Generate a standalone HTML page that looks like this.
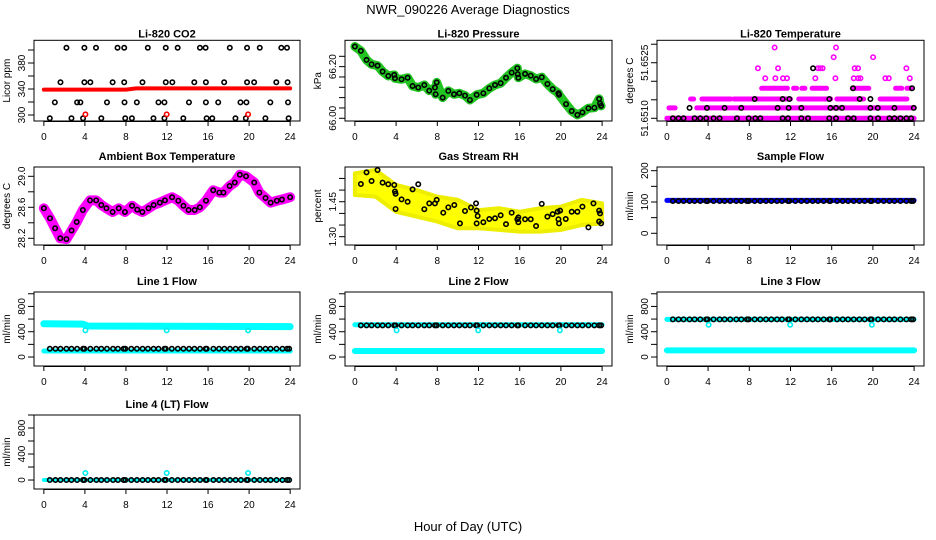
<!DOCTYPE html>
<html><head><meta charset="utf-8"><style>
html,body{margin:0;padding:0;background:#fff;}
svg{display:block;font-family:"Liberation Sans",sans-serif;}
</style></head><body>
<svg id="chart" width="936" height="540" viewBox="0 0 936 540" xmlns="http://www.w3.org/2000/svg">
<rect width="936" height="540" fill="#fff"/>
<text x="468" y="14" text-anchor="middle" font-size="13">NWR_090226  Average Diagnostics</text>
<text x="468" y="531" text-anchor="middle" font-size="13">Hour of Day (UTC)</text>
</svg>
<script>
// ---------- data ----------
const xTicks = [0,4,8,12,16,20,24];
const cadenceHours = [0.58,1.13,1.62,2.2,2.69,3.24,3.82,3.95,4.53,5.12,5.6,6.15,6.74,7.22,7.77,7.94,8.52,9.07,9.62,10.14,10.69,11.17,11.76,11.88,12.47,13.05,13.6,14.15,14.67,15.22,15.77,15.87,16.52,17.07,17.59,18.14,18.69,19.2,19.76,19.88,20.5,21.05,21.6,22.09,22.67,23.25,23.71,23.9];

// CO2
const co2HoursA = [2.2,3.95,5.08,7.18,7.83,10.13,11.88,13.04,15.21,15.76,18.12,19.8,21.04,23.14,23.69];
const co2HoursB = [1.62,3.95,4.53,6.7,7.83,9.61,11.88,12.52,14.66,15.79,17.57,19.8,20.49,22.65,23.75];
const co2HoursC = [1.07,3.24,3.56,6.15,7.86,9.06,11.17,11.75,14.14,15.79,16.99,19.16,19.74,22.07,23.79];
const co2HoursD = [0.58,2.69,3.82,5.6,7.93,8.58,10.68,11.75,13.59,15.86,16.41,18.67,19.68,21.59,23.85];
const co2Levels = [403.5,350.3,319.5,295];
const co2RedBand = [[0,339],[8,339],[9,341],[24,341]];
const co2RedOutlierHours = [4.05,11.97,19.9];
const co2RedOutlierValue = 301;

// Pressure
const presHours = [0,.58,1.13,1.62,2.2,2.69,3.24,3.82,3.89,4.53,5.12,5.6,6.15,6.74,7.22,7.77,7.84,7.94,8.52,9.07,9.62,10.14,10.69,11.17,11.82,12.47,13.05,13.6,14.15,14.67,15.22,15.77,15.81,15.87,16.52,17.07,17.59,18.14,18.69,19.2,19.76,19.82,20.5,21.05,21.6,22.09,22.67,23.25,23.71,23.8,23.9];
const presValues = [66.278,66.261,66.226,66.209,66.204,66.181,66.164,66.168,66.155,66.151,66.157,66.125,66.119,66.129,66.107,66.119,66.093,66.139,66.080,66.106,66.093,66.097,66.088,66.071,66.091,66.097,66.116,66.129,66.136,66.157,66.177,66.194,66.171,66.157,66.172,66.165,66.152,66.159,66.133,66.113,66.097,66.091,66.055,66.028,66.013,66.023,66.039,66.041,66.075,66.057,66.048];

// Li-820 temperature
const tempLevels = [51.6510,51.65128,51.65152,51.65181,51.65208,51.65235,51.65265,51.65291];
const tempBandL0 = [[0,24]];
const tempBandL1 = [[0.2,0.8],[2.9,24]];
const tempBandL2 = [[2.3,2.6],[3.4,6.2],[6.5,8.6],[8.7,12],[12.8,15.9],[16.5,19.1],[20.7,23.3]];
const tempBandL3 = [[9.2,11.7],[12.3,12.6],[13.1,13.4],[14.1,15.5],[18,19.6],[22.2,22.8],[23.3,23.7]];
const tempPtsL4 = [9.55,10.53,11.27,11.66,14.41,16.36,18.14,18.56,18.79,21.21,21.54,23.58];
const tempPtsL5 = [8.84,10.79,14.67,14.9,15.12,18.23,18.56,23.25];
const tempPtsL6 = [16.19,20.02];
const tempPtsL7 = [10.46,16.42];
const tempBlackL0 = [.58,1.13,1.62,2.69,3.24,3.82,4.53,5.12,6.8,7.94,8.58,9.07,11.24,11.76,13.05,13.7,15.77,16.42,17.59,18.14,19.76,20.5,21.6,22.09,22.67,23.25,23.71];
const tempBlackL1 = [2.2,3.89,5.6,7.22,10.75,11.82,13.05,15.87,16.42,17.0,19.76,20.47,22.09,23.97];
const tempBlackL2 = [8.52,11.24,11.89,15.77,18.72,19.76];
const tempBlackL3 = [18.07,23.8];
const tempBlackL5 = [14.19];

// Ambient box temperature
const ambHours = [0,0.6,1.1,1.6,2.2,2.7,3.2,3.8,4.5,5.1,5.6,6.1,6.7,7.3,7.9,8.6,9.1,9.6,10.2,10.7,11.3,11.8,12.5,13.1,13.6,14.1,14.7,15.2,15.8,16.5,17.1,17.5,18.1,18.6,19.1,19.7,20.5,21,21.6,22.1,22.7,23.2,24];
const ambValues = [28.587,28.458,28.329,28.2,28.19,28.30,28.41,28.565,28.69,28.69,28.63,28.587,28.54,28.587,28.54,28.62,28.57,28.54,28.587,28.63,28.66,28.69,28.73,28.685,28.62,28.565,28.565,28.6,28.685,28.82,28.79,28.79,28.875,28.92,29.02,29.0,28.92,28.79,28.72,28.66,28.685,28.70,28.73];

// Gas stream RH
const rhBandHours = [0,2,4,6,8,10,12,14,16,18,20,22,24];
const rhBandUpper = [1.572,1.586,1.522,1.500,1.472,1.458,1.414,1.422,1.407,1.422,1.429,1.458,1.443];
const rhBandLower = [1.479,1.472,1.407,1.386,1.365,1.336,1.336,1.329,1.322,1.322,1.329,1.350,1.357];
const rhHours = [0.58,1.13,1.62,2.2,2.69,3.24,3.82,3.89,3.95,3.95,4.53,5.12,5.6,6.15,6.74,7.22,7.77,7.94,8.58,9.07,9.65,10.2,10.69,11.27,11.76,11.82,11.92,11.82,12.47,13.05,13.6,14.15,14.67,15.22,15.77,15.87,15.87,16.52,17.07,17.59,18.14,18.69,19.2,19.69,19.76,19.82,19.92,20.47,21.05,21.6,22.09,22.67,23.16,23.71,23.8,23.71,23.9];
const rhValues = [1.526,1.576,1.539,1.586,1.532,1.525,1.522,1.494,1.484,1.419,1.460,1.450,1.503,1.525,1.418,1.443,1.443,1.458,1.403,1.426,1.436,1.357,1.410,1.425,1.443,1.412,1.389,1.357,1.362,1.376,1.379,1.392,1.354,1.403,1.375,1.383,1.362,1.375,1.375,1.346,1.441,1.386,1.397,1.407,1.375,1.357,1.412,1.376,1.407,1.407,1.429,1.340,1.443,1.412,1.400,1.365,1.357];

// Flows
const sampleFlowBand = 105;
const sampleFlowBlack = 103;
const line1Upper = [[0,526],[3.8,520],[4.3,490],[24,480]];
const line1Lower = 95;
const line1Black = 131;
const line2Upper = [[0,510],[24,510]];
const line2Lower = 95;
const line2Black = 500;
const line3Upper = [[0,596],[24,596]];
const line3Lower = 106;
const line3Black = 596;
const line4Base = 0;
const line4Black = 0;
const outlierHours = [4.05,11.97,19.9];
const line1Outlier = 422;
const line2Outlier = 422;
const line3Outlier = 510;
const line4Outlier = 108;

// ---------- drawing ----------
const svg = document.getElementById('chart');
const NS = 'http://www.w3.org/2000/svg';
const colLeft = [34,345,657];
const colRight = [300,612,924];
const rowTop = [40.3,167,292,415];
const rowBot = [121,245,366,489];

function mk(tag, attrs, parent){
  const e = document.createElementNS(NS, tag);
  for (const k in attrs) e.setAttribute(k, attrs[k]);
  (parent||svg).appendChild(e);
  return e;
}

function makePanel(col,row,title,ylab,ymin,ymax,yTicks,yLabels,fmt){
  const L=colLeft[col],R=colRight[col],T=rowTop[row],B=rowBot[row];
  const g = mk('g',{});
  
  
  const xs = h => L + (h + 0.96) / 25.92 * (R - L);
  const ys = v => B - (v - ymin) / (ymax - ymin) * (B - T);
  const marks = mk('g',{}, g);
  
  
  const box = mk('rect',{x:L,y:T,width:R-L,height:B-T,fill:'none',stroke:'#000','stroke-width':1},g);
  
  
  const t = mk('text',{x:(L+R)/2,y:T-(row===0?3:7),'text-anchor':'middle','font-size':11,'font-weight':'bold'},g);
  t.textContent = title;
  
  
  const yt = mk('text',{transform:`translate(${L-24},${(T+B)/2}) rotate(-90)`,'text-anchor':'middle','font-size':10},g);
  yt.textContent = ylab;
  
  
  // x axis
  const xa = mk('g',{stroke:'#000','stroke-width':1},g);
  
  
  mk('line',{x1:xs(0),x2:xs(24),y1:B+0.5,y2:B+0.5},xa);
  xTicks.forEach(h=>{
    mk('line',{x1:xs(h),x2:xs(h),y1:B,y2:B+5},xa);
    const lt = mk('text',{x:xs(h),y:B+19,'text-anchor':'middle','font-size':10,stroke:'none',fill:'#000'},g);
    lt.textContent = h;
    
    
  });
  const ya = mk('g',{stroke:'#000','stroke-width':1},g);
  
  
  yTicks.forEach(v=>mk('line',{x1:L-6,x2:L,y1:ys(v),y2:ys(v)},ya));
  yLabels.forEach(v=>{
    const lt = mk('text',{transform:`translate(${L-9},${ys(v)}) rotate(-90)`,'text-anchor':'middle','font-size':10},g);
    lt.textContent = fmt ? fmt(v) : v;
    
    
  });
  return {xs,ys,g:marks};
}

function pt(p,h,v,color){
  const c = mk('circle',{cx:p.xs(h),cy:p.ys(v),r:2.2,fill:'none',stroke:color,'stroke-width':1.6},p.g);
  
  
}
function band(p,pairs,color,w){
  const l = mk('polyline',{points:pairs.map(q=>p.xs(q[0])+','+p.ys(q[1])).join(' '),fill:'none',stroke:color,'stroke-width':w,'stroke-linejoin':'round','stroke-linecap':'round'},p.g);
  
  
}
function flat(v){return [[0,v],[24,v]];}

// Panel 1 CO2
let p = makePanel(0,0,'Li-820 CO2','Licor ppm',290.8,414.9,[300,320,340,360,380,400],[300,340,380]);
band(p,co2RedBand,'#ff0000',4);
[co2HoursA,co2HoursB,co2HoursC,co2HoursD].forEach((hs,i)=>hs.forEach(h=>pt(p,h,co2Levels[i],'#000')));
co2RedOutlierHours.forEach(h=>pt(p,h,co2RedOutlierValue,'#ff0000'));

// Panel 2 Pressure
p = makePanel(1,0,'Li-820 Pressure','kPa',65.9895,66.302,[66.00,66.04,66.08,66.12,66.16,66.20,66.24],[66.00,66.20],v=>v.toFixed(2));
band(p,presHours.map((h,i)=>[h,presValues[i]]),'#22c422',9);
presHours.forEach((h,i)=>pt(p,h,presValues[i],'#000'));

// Panel 3 Li-820 temperature
p = makePanel(2,0,'Li-820 Temperature','degrees C',51.650927,51.653106,[51.6510,51.6515,51.6520,51.6525,51.6530],[51.6510,51.6525],v=>v.toFixed(4));
[tempBandL0,tempBandL1,tempBandL2,tempBandL3].forEach((segs,i)=>segs.forEach(s=>band(p,[[s[0],tempLevels[i]],[s[1],tempLevels[i]]],'#ff00ff',5)));
tempPtsL4.forEach(h=>pt(p,h,tempLevels[4],'#ff00ff'));
tempPtsL5.forEach(h=>pt(p,h,tempLevels[5],'#ff00ff'));
tempPtsL6.forEach(h=>pt(p,h,tempLevels[6],'#ff00ff'));
tempPtsL7.forEach(h=>pt(p,h,tempLevels[7],'#ff00ff'));
tempBlackL0.forEach(h=>pt(p,h,tempLevels[0],'#000'));
tempBlackL1.forEach(h=>pt(p,h,tempLevels[1],'#000'));
tempBlackL2.forEach(h=>pt(p,h,tempLevels[2],'#000'));
tempBlackL3.forEach(h=>pt(p,h,tempLevels[3],'#000'));
tempBlackL5.forEach(h=>pt(p,h,tempLevels[5],'#000'));

// Panel 4 Ambient
p = makePanel(0,1,'Ambient Box Temperature','degrees C',28.1135,29.12,[28.2,28.4,28.6,28.8,29.0],[28.2,28.6,29.0],v=>v.toFixed(1));
band(p,ambHours.map((h,i)=>[h,ambValues[i]]),'#ff00ff',10);
ambHours.forEach((h,i)=>pt(p,h,ambValues[i],'#000'));

// Panel 5 RH
p = makePanel(1,1,'Gas Stream RH','percent',1.2644,1.599,[1.30,1.35,1.40,1.45,1.50,1.55],[1.30,1.45],v=>v.toFixed(2));
{
  const up = rhBandHours.map((h,i)=>p.xs(h)+','+p.ys(rhBandUpper[i]));
  const lo = rhBandHours.map((h,i)=>p.xs(h)+','+p.ys(rhBandLower[i])).reverse();
  const poly = mk('polygon',{points:up.concat(lo).join(' '),fill:'#ffff00',stroke:'#eeee00','stroke-width':4,'stroke-linejoin':'round'},p.g);
  
  
}
rhHours.forEach((h,i)=>pt(p,h,rhValues[i],'#000'));

// Panel 6 Sample flow
p = makePanel(2,1,'Sample Flow','ml/min',-37.4,211.8,[0,50,100,150,200],[0,100,200]);
band(p,flat(sampleFlowBand),'#0000ff',5);
cadenceHours.forEach(h=>pt(p,h,sampleFlowBlack,'#000'));

// Flow panels
const flowTicks=[0,200,400,600,800,1000], flowLabels=[0,400,800];
p = makePanel(0,2,'Line 1 Flow','ml/min',-142,1028,flowTicks,flowLabels);
band(p,line1Upper,'#00ffff',7);
band(p,flat(line1Lower),'#00ffff',5);
cadenceHours.forEach(h=>pt(p,h,line1Black,'#000'));
outlierHours.forEach(h=>pt(p,h,line1Outlier,'#00eeee'));

p = makePanel(1,2,'Line 2 Flow','ml/min',-142,1028,flowTicks,flowLabels);
band(p,line2Upper,'#00ffff',5);
band(p,flat(line2Lower),'#00ffff',6);
cadenceHours.forEach(h=>pt(p,h,line2Black,'#000'));
outlierHours.forEach(h=>pt(p,h,line2Outlier,'#00eeee'));

p = makePanel(2,2,'Line 3 Flow','ml/min',-142,1028,flowTicks,flowLabels);
band(p,line3Upper,'#00ffff',5);
band(p,flat(line3Lower),'#00ffff',6);
cadenceHours.forEach(h=>pt(p,h,line3Black,'#000'));
outlierHours.forEach(h=>pt(p,h,line3Outlier,'#00eeee'));

p = makePanel(0,3,'Line 4 (LT) Flow','ml/min',-138,1000,flowTicks,flowLabels);
band(p,flat(line4Base),'#00ffff',4);
cadenceHours.forEach(h=>pt(p,h,line4Black,'#000'));
outlierHours.forEach(h=>pt(p,h,line4Outlier,'#00eeee'));
</script>
</body></html>
